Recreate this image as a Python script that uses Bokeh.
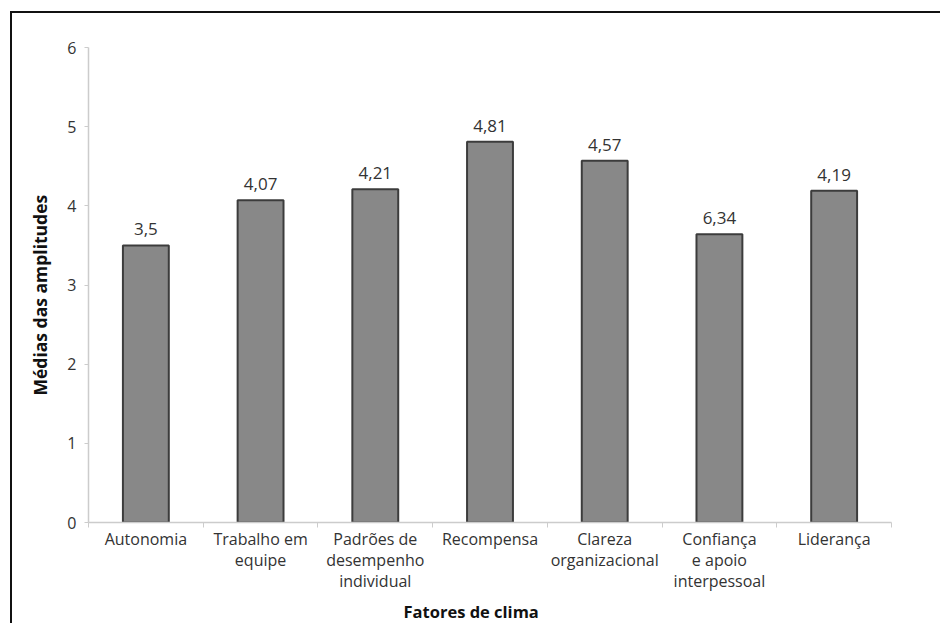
from bokeh.plotting import figure
from bokeh.models import ColumnDataSource, FixedTicker, Title
from bokeh.core.properties import value
from bokeh.embed import file_html
from bokeh.resources import INLINE

# Climate factors and mean amplitude per factor
categories = [
    "Autonomia",
    "Trabalho em\nequipe",
    "Padrões de\ndesempenho\nindividual",
    "Recompensa",
    "Clareza\norganizacional",
    "Confiança\ne apoio\ninterpessoal",
    "Liderança",
]
means = [3.50, 4.07, 4.21, 4.81, 4.57, 3.64, 4.19]
value_labels = ["3,5", "4,07", "4,21", "4,81", "4,57", "6,34", "4,19"]
y_ticks = [0, 1, 2, 3, 4, 5, 6]

FONT = "Open Sans"
TICK_COLOR = "#333333"

centers = [i + 0.5 for i in range(len(categories))]
src = ColumnDataSource(dict(x=centers, top=means, label=value_labels))

p = figure(
    width=930, height=612,
    x_range=(0, len(categories)), y_range=(0, 6),
    output_backend="svg", toolbar_location=None,
    min_border_left=76, min_border_right=51,
    min_border_top=34, min_border_bottom=103,
)
p.styles = {
    "margin-left": "10px",
    "margin-top": "11px",
    "border-left": "2px solid #111111",
    "border-top": "2px solid #111111",
}
p.outline_line_color = None
p.grid.visible = False
p.background_fill_color = "white"
p.border_fill_color = "white"

p.vbar(x="x", top="top", width=0.4, bottom=0, source=src,
       fill_color="#888888", line_color="#3c3c3c", line_width=2)

p.text(x="x", y="top", text="label", source=src,
       text_align="center", text_baseline="bottom", y_offset=-10,
       text_font=value(FONT), text_font_size="17px", text_color=TICK_COLOR)

# x axis: labels at category centres, ticks at category boundaries
xa = p.xaxis[0]
xa.ticker = FixedTicker(ticks=centers, minor_ticks=list(range(len(categories) + 1)))
xa.major_label_overrides = {c: name for c, name in zip(centers, categories)}
xa.major_tick_in = 0
xa.major_tick_out = 0
xa.minor_tick_in = 0
xa.minor_tick_out = 5
xa.minor_tick_line_color = "#cccccc"
xa.axis_line_color = "#cccccc"
xa.axis_line_width = 1.5
xa.major_label_standoff = 0
xa.major_label_text_font = FONT
xa.major_label_text_font_size = "16px"
xa.major_label_text_color = TICK_COLOR
xa.major_label_text_line_height = 0.97

ya = p.yaxis[0]
ya.ticker = FixedTicker(ticks=y_ticks)
ya.minor_tick_line_color = None
ya.major_tick_in = 0
ya.major_tick_out = 4
ya.major_tick_line_color = "#cccccc"
ya.axis_line_color = "#cccccc"
ya.axis_line_width = 1.5
ya.major_label_standoff = 8
ya.major_label_text_font = FONT
ya.major_label_text_font_size = "16px"
ya.major_label_text_color = TICK_COLOR

p.add_layout(Title(text="Fatores de clima", align="left", offset=315,
                   text_font=FONT, text_font_size="16.5px", text_font_style="bold",
                   text_color="#111111", standoff=4), "below")
p.add_layout(Title(text="Médias das amplitudes", align="left", offset=127,
                   vertical_align="top",
                   text_font=FONT, text_font_size="17.5px", text_font_style="bold",
                   text_color="#111111", standoff=22), "left")

open("out.html", "w").write(file_html(p, INLINE))
